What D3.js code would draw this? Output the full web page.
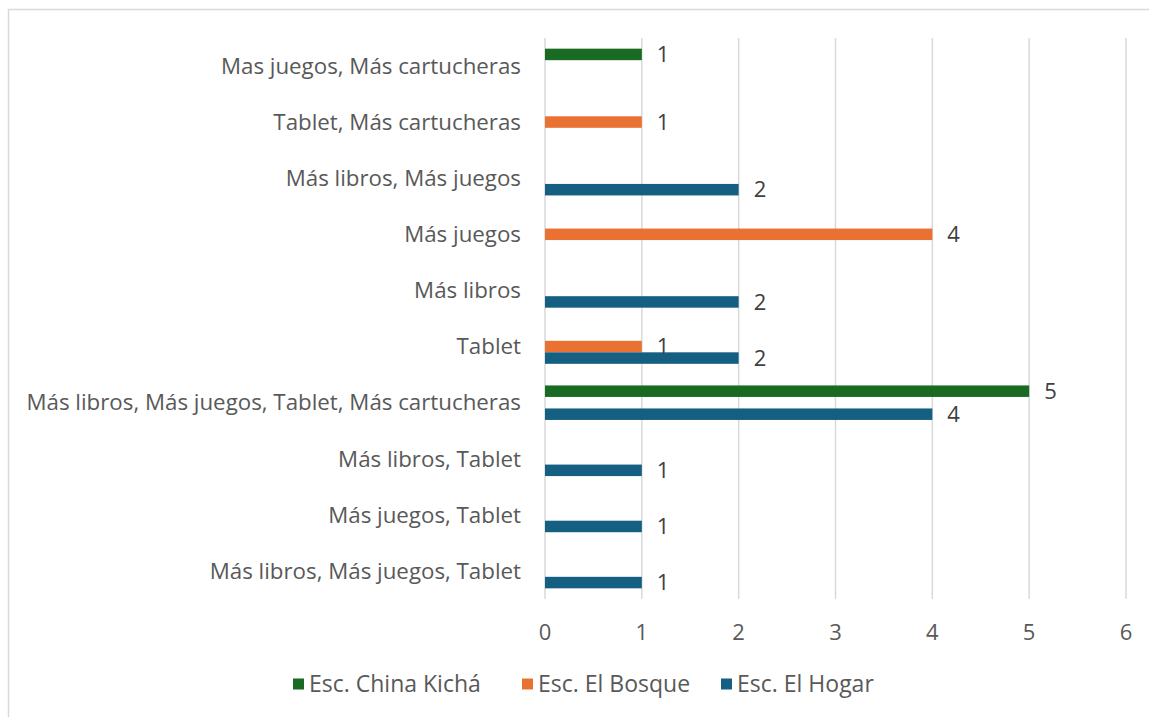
<!DOCTYPE html>
<html>
<head>
<meta charset="utf-8">
<script src="https://cdn.jsdelivr.net/npm/d3@7"></script>
<style>
  body { margin: 0; background: #fff; }
  svg { display: block; font-family: "Open Sans", "Liberation Sans", Arial, sans-serif; }
</style>
</head>
<body>
<svg id="chart" width="1149" height="717"></svg>
<script>
// categories listed top to bottom
var categories = [
    "Mas juegos, Más cartucheras",
    "Tablet, Más cartucheras",
    "Más libros, Más juegos",
    "Más juegos",
    "Más libros",
    "Tablet",
    "Más libros, Más juegos, Tablet, Más cartucheras",
    "Más libros, Tablet",
    "Más juegos, Tablet",
    "Más libros, Más juegos, Tablet"
];
var seriesNames = ["Esc. China Kichá", "Esc. El Bosque", "Esc. El Hogar"];
var chinaKicha = [1, null, null, null, null, null, 5, null, null, null];
var elBosque   = [null, 1, null, 4, null, 1, null, null, null, null];
var elHogar    = [null, null, 2, null, 2, 2, 4, 1, 1, 1];
var xTicks = [0, 1, 2, 3, 4, 5, 6];
var colors = ["#196B24", "#E97132", "#156082"];

var values = [chinaKicha, elBosque, elHogar];

var svg = d3.select("#chart");

// outer chart border (continues past the right and bottom edges)
svg.append("rect")
    .attr("x", 8.5).attr("y", 9.5)
    .attr("width", 1160).attr("height", 720)
    .attr("fill", "none")
    .attr("stroke", "#d9d9d9")
    .attr("stroke-width", 1.5);

var x = d3.scaleLinear().domain([0, 6]).range([545, 1126]);
var y = d3.scaleBand().domain(categories).range([38, 599])
    .paddingInner(0.385).paddingOuter(0.19);
var ySub = d3.scaleBand().domain(seriesNames).range([0, y.bandwidth()]);

// gridlines
svg.append("g").selectAll("line")
    .data(xTicks)
    .enter().append("line")
    .attr("x1", function (d) { return x(d); })
    .attr("x2", function (d) { return x(d); })
    .attr("y1", 38).attr("y2", 599)
    .attr("stroke", "#d9d9d9")
    .attr("stroke-width", 1.5);

// x tick labels
svg.append("g").selectAll("text")
    .data(xTicks)
    .enter().append("text")
    .attr("x", function (d) { return x(d); })
    .attr("y", 632)
    .attr("dy", ".35em")
    .attr("text-anchor", "middle")
    .attr("font-size", 22)
    .attr("fill", "#595959")
    .text(function (d) { return d; });

// category labels
svg.append("g").selectAll("text")
    .data(categories)
    .enter().append("text")
    .attr("x", 521)
    .attr("y", function (d) { return y(d) + y.bandwidth() / 2; })
    .attr("dy", ".35em")
    .attr("text-anchor", "end")
    .attr("font-size", 22.3)
    .attr("fill", "#595959")
    .text(function (d) { return d; });

// bars and value labels
var rows = [];
seriesNames.forEach(function (s, si) {
    values[si].forEach(function (v, ci) {
        if (v != null) rows.push({series: s, si: si, cat: categories[ci], value: v});
    });
});

svg.append("g").selectAll("rect")
    .data(rows)
    .enter().append("rect")
    .attr("x", x(0))
    .attr("y", function (d) { return y(d.cat) + ySub(d.series); })
    .attr("width", function (d) { return x(d.value) - x(0); })
    .attr("height", ySub.bandwidth())
    .attr("fill", function (d) { return colors[d.si]; });

svg.append("g").selectAll("text")
    .data(rows)
    .enter().append("text")
    .attr("x", function (d) { return x(d.value) + 15; })
    .attr("y", function (d) { return y(d.cat) + ySub(d.series) + ySub.bandwidth() / 2; })
    .attr("dy", ".35em")
    .attr("font-size", 22)
    .attr("fill", "#404040")
    .text(function (d) { return d.value; });

// legend
var legendX = [293, 522, 721];
var legend = svg.append("g").selectAll("g")
    .data(seriesNames)
    .enter().append("g")
    .attr("transform", function (d, i) { return "translate(" + legendX[i] + ",684)"; });

legend.append("rect")
    .attr("x", 0).attr("y", -5.5)
    .attr("width", 11).attr("height", 11)
    .attr("fill", function (d, i) { return colors[i]; });

legend.append("text")
    .attr("x", 16)
    .attr("dy", ".35em")
    .attr("font-size", 23)
    .attr("fill", "#595959")
    .text(function (d) { return d; });
</script>
</body>
</html>
